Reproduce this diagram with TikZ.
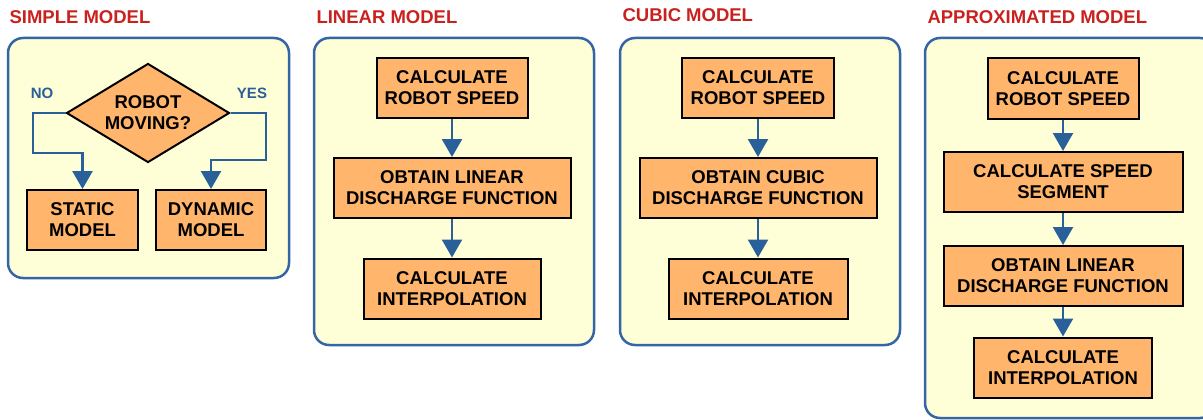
\documentclass[tikz,border=0pt]{standalone}
\usepackage{fontspec}
\setmainfont{Liberation Sans}
\usetikzlibrary{arrows.meta,shapes.geometric}
\definecolor{panelfill}{HTML}{FFFFD7}
\definecolor{panelline}{HTML}{3465A4}
\definecolor{boxfill}{HTML}{FFB66C}
\definecolor{flowline}{HTML}{2A6099}
\definecolor{titlered}{HTML}{C9211E}

\begin{document}
\begin{tikzpicture}[%
        x=1pt, y=-1pt,
        every node/.style={font=\fontsize{18.5}{21}\selectfont\bfseries, align=center},
        panel/.style={draw=panelline, fill=panelfill, line width=2.5pt, rounded corners=15pt},
        title/.style={text=titlered, anchor=west, font=\fontsize{18.5}{21}\selectfont\bfseries},
        stepbox/.style={rectangle, draw=black, fill=boxfill, line width=2pt, minimum height=60pt, inner sep=0pt},
        decision/.style={diamond, draw=black, fill=boxfill, line width=2pt, minimum width=163pt, minimum height=99pt, inner sep=0pt, aspect=1.65},
        answer/.style={text=flowline, font=\fontsize{15}{17}\selectfont\bfseries},
        flow/.style={draw=flowline, line width=2.5pt, -{Triangle[width=20pt,length=18pt]}}
        ]
        \useasboundingbox (0,0) rectangle (1203,420);

        % panels
        \draw[panel] (8,38) rectangle (289,278);
        \draw[panel] (314,38) rectangle (594,345);
        \draw[panel] (620,38) rectangle (900,345);
        \draw[panel] (925,38) rectangle (1215,418);

        \node[title] (tsimple) at (6,17) {SIMPLE MODEL};
        \node[title] (tlinear) at (313,17) {LINEAR MODEL};
        \node[title] (tcubic) at (619,15) {CUBIC MODEL};
        \node[title] (tapprox) at (924,17) {APPROXIMATED MODEL};

        % simple model
        \node[decision] (moving) at (148,113) {ROBOT\\MOVING?};
        \node[stepbox, minimum width=111pt] (static) at (82.5,220) {STATIC\\MODEL};
        \node[stepbox, minimum width=110pt] (dynamic) at (211,220) {DYNAMIC\\MODEL};
        \node[answer] (no) at (42,93) {NO};
        \node[answer] (yes) at (252,93) {YES};
        \coordinate (nobend) at (33,153);
        \coordinate (yesbend) at (266,160);
        \draw[flow] (moving.west) -| (nobend) -| (static.north);
        \draw[flow] (moving.east) -| (yesbend) -| (dynamic.north);

        % linear model
        \node[stepbox, minimum width=151pt] (lspeed) at (452,88) {CALCULATE\\ROBOT SPEED};
        \node[stepbox, minimum width=237pt] (ldischarge) at (452,188) {OBTAIN LINEAR\\DISCHARGE FUNCTION};
        \node[stepbox, minimum width=177pt] (linterp) at (452,288.5) {CALCULATE\\INTERPOLATION};
        \draw[flow] (lspeed) -- (ldischarge);
        \draw[flow] (ldischarge) -- (linterp);

        % cubic model
        \node[stepbox, minimum width=152pt] (cspeed) at (758,88) {CALCULATE\\ROBOT SPEED};
        \node[stepbox, minimum width=237pt] (cdischarge) at (758,188) {OBTAIN CUBIC\\DISCHARGE FUNCTION};
        \node[stepbox, minimum width=179pt] (cinterp) at (758,288.5) {CALCULATE\\INTERPOLATION};
        \draw[flow] (cspeed) -- (cdischarge);
        \draw[flow] (cdischarge) -- (cinterp);

        % approximated model
        \node[stepbox, minimum width=151pt] (aspeed) at (1063,88.5) {CALCULATE\\ROBOT SPEED};
        \node[stepbox, minimum width=239pt] (asegment) at (1063,182) {CALCULATE SPEED\\SEGMENT};
        \node[stepbox, minimum width=239pt] (adischarge) at (1063,276) {OBTAIN LINEAR\\DISCHARGE FUNCTION};
        \node[stepbox, minimum width=178pt] (ainterp) at (1063,367.5) {CALCULATE\\INTERPOLATION};
        \draw[flow] (aspeed) -- (asegment);
        \draw[flow] (asegment) -- (adischarge);
        \draw[flow] (adischarge) -- (ainterp);
    \end{tikzpicture}
\end{document}
